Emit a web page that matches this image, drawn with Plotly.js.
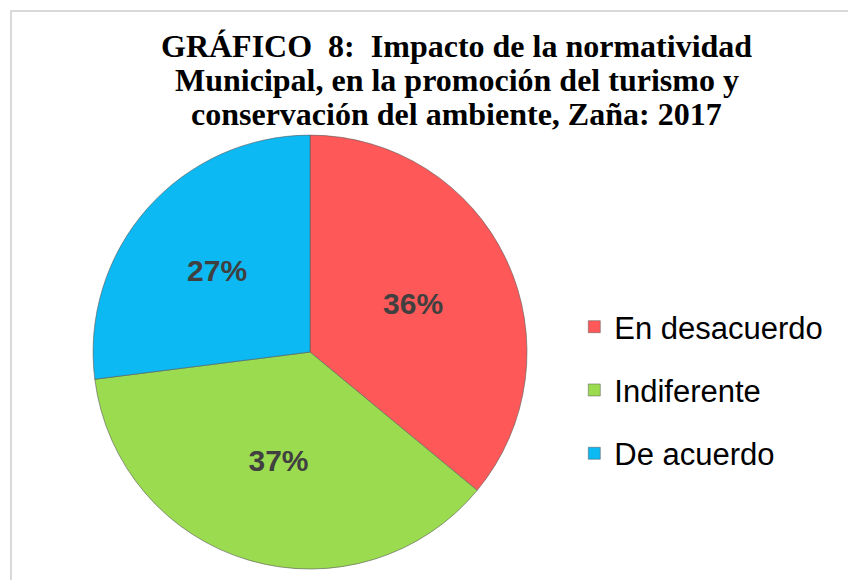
<!DOCTYPE html>
<html>
<head>
<meta charset="utf-8">
<script src="https://cdn.plot.ly/plotly-3.0.1.min.js"></script>
<style>
  body { margin: 0; background: #fff; overflow: hidden; }
  #grafico { position: absolute; left: 10px; top: 10px; width: 838px; height: 570px;
             border-left: 2px solid #d9d9d9; border-top: 2px solid #d9d9d9; }
</style>
</head>
<body>
<div id="grafico"></div>
<script>
// Datos del gráfico
let categorias = ["En desacuerdo", "Indiferente", "De acuerdo"]
let porcentajes = [36, 37, 27]
let colores = ["#ff5858", "#9bdb50", "#0cb9f2"]

// Título, una línea por anotación (interlineado más apretado que el de Plotly)
let lineasTitulo = [
    "GRÁFICO  8:  Impacto de la normatividad",
    "Municipal, en la promoción del turismo y",
    "conservación del ambiente, Zaña: 2017"
]
let yTitulo = [0.9404, 0.8807, 0.8211]

// Torta
let torta = {
    type: 'pie',
    labels: categorias,
    values: porcentajes,
    sort: false,
    direction: 'clockwise',
    rotation: 0,
    showlegend: false,
    textinfo: 'percent',
    textposition: 'inside',
    insidetextorientation: 'horizontal',
    textfont: {family: 'Liberation Sans, Arial', size: 30, color: '#404040', weight: 'bold'},
    marker: {colors: colores, line: {color: 'rgba(90,90,90,0.6)', width: 1}},
    domain: {x: [0.0967, 0.6146], y: [0.0228, 0.784]},
    hoverinfo: 'label+percent'
}

// Leyenda: una traza vacía por categoría para poder separar los elementos
let data = [torta]
for (let i = 0; i < categorias.length; i++) {
    data.push({
        type: 'scatter',
        mode: 'markers',
        x: [null],
        y: [null],
        name: categorias[i],
        legendgroup: 'g' + i,
        marker: {symbol: 'square', size: 12, color: colores[i], line: {color: 'rgba(90,90,90,0.5)', width: 1}},
        showlegend: true
    })
}

let anotaciones = []
for (let i = 0; i < lineasTitulo.length; i++) {
    anotaciones.push({
        text: '<b>' + lineasTitulo[i] + '</b>',
        xref: 'paper', yref: 'paper',
        x: 0.531, y: yTitulo[i],
        xanchor: 'center', yanchor: 'middle',
        showarrow: false,
        font: {family: 'Liberation Serif, Times New Roman', size: 32, color: '#000000'}
    })
}

let layout = {
    width: 838,
    height: 570,
    margin: {l: 0, r: 0, t: 0, b: 0},
    paper_bgcolor: '#ffffff',
    plot_bgcolor: '#ffffff',
    annotations: anotaciones,
    xaxis: {visible: false},
    yaxis: {visible: false},
    showlegend: true,
    legend: {
        x: 0.671,
        xanchor: 'left',
        y: 0.3368,
        yanchor: 'middle',
        font: {family: 'Liberation Sans, Arial', size: 31, color: '#000000'},
        tracegroupgap: 20,
        bgcolor: 'rgba(0,0,0,0)'
    }
}

Plotly.newPlot('grafico', data, layout, {displayModeBar: false})
</script>
</body>
</html>
